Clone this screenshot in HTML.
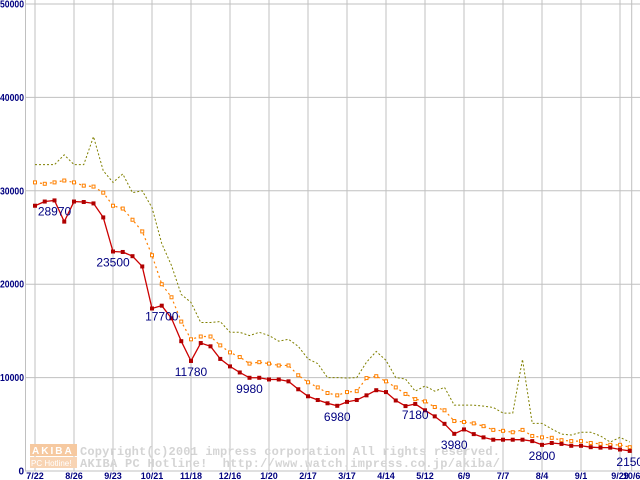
<!DOCTYPE html>
<html><head><meta charset="utf-8"><style>
html,body{margin:0;padding:0;background:#fff;}
svg{display:block;}
.ax{font-family:"Liberation Sans",sans-serif;font-size:9px;font-weight:bold;fill:#000080;}
.axy{font-family:"Liberation Sans",sans-serif;font-size:10px;font-weight:bold;fill:#000080;}
.lbl{font-family:"Liberation Sans",sans-serif;font-size:12px;fill:#000080;}
.wm{font-family:"Liberation Mono",monospace;font-size:12px;fill:#d4d4d4;font-weight:bold;white-space:pre;}
</style></head><body>
<svg id="chart" width="640" height="480" viewBox="0 0 640 480" xmlns="http://www.w3.org/2000/svg">
<g id="grid"></g>
<g id="wm">
<rect x="30" y="444" width="47" height="12" fill="#f6c9a0"/>
<rect x="30" y="457" width="47" height="11" fill="#f8d4b4"/>
<text x="32" y="454" font-family="Liberation Sans,sans-serif" font-size="10" font-weight="bold" fill="#fff" letter-spacing="2">AKIBA</text>
<text x="31" y="466" font-family="Liberation Sans,sans-serif" font-size="8" fill="#fff">PC Hotline!</text>
<text class="wm" x="80" y="455" textLength="420" xml:space="preserve">Copyright(c)2001 impress corporation All rights reserved.</text>
<text class="wm" x="80" y="467" textLength="420" xml:space="preserve">AKIBA PC Hotline!  http://www.watch.impress.co.jp/akiba/</text>
</g>
<g id="series"></g>
<g id="axes"></g>
</svg>
<script>
const yTicks=[0,10000,20000,30000,40000,50000];
const xLabels=["7/22","8/26","9/23","10/21","11/18","12/16","1/20","2/17","3/17","4/14","5/12","6/9","7/7","8/4","9/1","9/29","10/6"];
const xLabelIdx=[0,4,8,12,16,20,24,28,32,36,40,44,48,52,56,60,61.2];
const minPrice=[28400,28850,28970,26700,28850,28800,28650,27150,23500,23450,23000,21900,17400,17700,16350,13900,11780,13700,13350,12000,11200,10550,9980,9980,9800,9800,9600,8750,8000,7600,7250,6980,7400,7600,8100,8650,8450,7550,6950,7180,6500,5850,5050,3980,4450,3950,3600,3350,3350,3350,3350,3200,2800,3000,2900,2700,2700,2550,2500,2500,2300,2150];
const avgPrice=[30900,30750,30900,31100,30900,30550,30450,29800,28400,28100,26900,25650,23100,20000,18600,16000,14100,14400,14400,13450,12700,12200,11500,11650,11500,11300,11300,10250,9500,8950,8350,8100,8450,8550,9950,10150,9600,8950,8250,7700,7450,6850,6500,5350,5250,5100,4800,4400,4300,4150,4400,3750,3600,3550,3300,3200,3200,3000,2900,2800,2800,2550];
const maxPrice=[32800,32800,32800,33850,32800,32800,35800,32150,30900,31800,29800,30000,28200,24350,22000,18900,18050,15900,15900,16000,14850,14850,14500,14850,14500,13900,14100,13350,12000,11500,10000,10000,9950,10000,11650,12800,11850,10000,9850,8550,9100,8550,8950,7050,7050,7050,6950,6800,6200,6200,11950,5100,5100,4500,3950,3850,4150,4150,3750,3100,3600,3100];
const labelIdx=[2,8,13,16,22,31,39,43,52,61];

const NS="http://www.w3.org/2000/svg";
const X=i=>35+i*9.75;
const Y=v=>471-v/50000*467;
function mk(tag,attrs,parent){const e=document.createElementNS(NS,tag);for(const k in attrs)e.setAttribute(k,attrs[k]);parent.appendChild(e);return e;}
const grid=document.getElementById('grid'),axes=document.getElementById('axes'),ser=document.getElementById('series');
yTicks.forEach(v=>{
  const l=mk('line',{x1:25,x2:640,y1:Y(v),y2:Y(v),stroke:'#c0c0c0','stroke-width':1},grid);
  
  
  let t;
  if(v===0){
    t=mk('text',{x:24,y:Y(v)+3.5,'text-anchor':'end',class:'axy'},axes);
  }else{
    t=mk('text',{x:0,y:Y(v)+3.5,textLength:24,lengthAdjust:'spacingAndGlyphs',class:'axy'},axes);
  }
  t.textContent=String(v);
  
  
});
xLabelIdx.forEach((ix,k)=>{
  const l=mk('line',{x1:X(ix),x2:X(ix),y1:0,y2:471,stroke:'#c0c0c0','stroke-width':1},grid);
  
  
  const t=mk('text',{x:X(ix),y:479,'text-anchor':'middle',class:'ax'},axes);
  t.textContent=xLabels[k];
  
  
});
const ya=mk('line',{x1:25.5,x2:25.5,y1:0,y2:471,stroke:'#c0c0c0'},grid);


function pts(arr){return arr.map((v,i)=>X(i)+','+Y(v)).join(' ');}
const mx=mk('polyline',{points:pts(maxPrice),fill:'none',stroke:'#808000','stroke-width':1,'stroke-dasharray':'2,2'},ser);


const av=mk('polyline',{points:pts(avgPrice),fill:'none',stroke:'#ff8000','stroke-width':1.2,'stroke-dasharray':'2,3'},ser);


avgPrice.forEach((v,i)=>{
  const r=mk('rect',{x:X(i)-1.5,y:Y(v)-1.5,width:3,height:3,fill:'#fff',stroke:'#ff8000','stroke-width':1},ser);
  
  
});
const mn=mk('polyline',{points:pts(minPrice),fill:'none',stroke:'#cc0000','stroke-width':1.3},ser);


minPrice.forEach((v,i)=>{
  const r=mk('rect',{x:X(i)-2,y:Y(v)-2,width:4,height:4,fill:'#b00000'},ser);
  
  
});
labelIdx.forEach(i=>{
  const t=mk('text',{x:X(i),y:Y(minPrice[i])+15,'text-anchor':'middle',class:'lbl'},ser);
  t.textContent=String(minPrice[i]);
  
  
});
</script>
</body></html>
